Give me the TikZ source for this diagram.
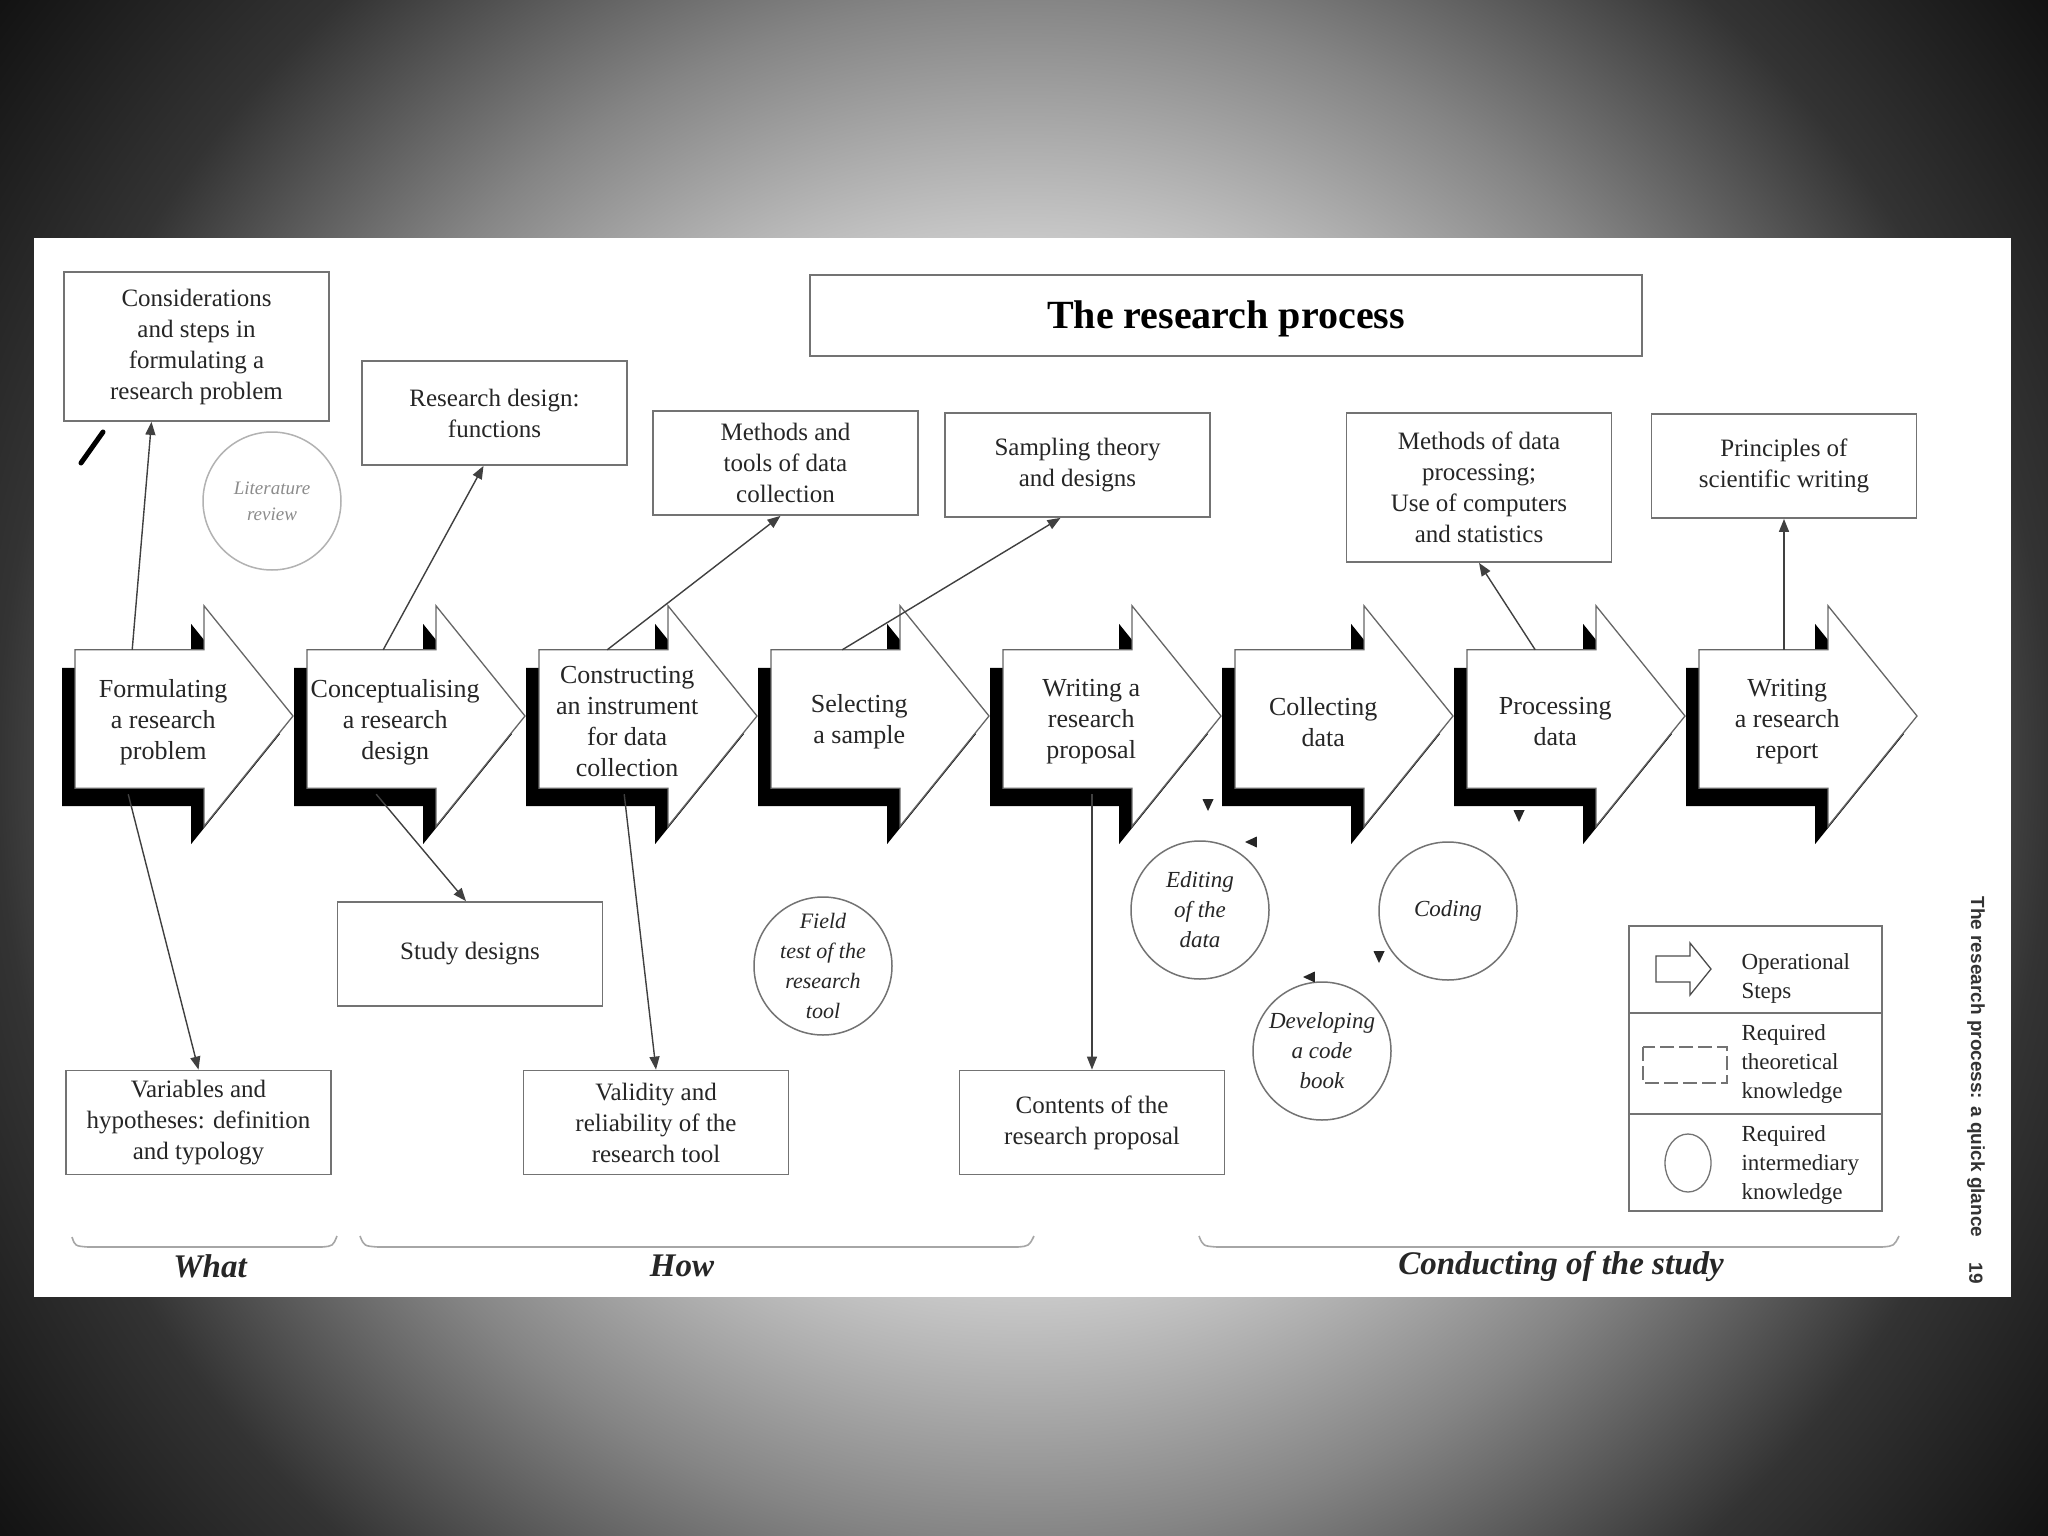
\documentclass[tikz,border=0pt]{standalone}
\usepackage{fontspec}
\setmainfont{Liberation Serif}
\setsansfont{Liberation Sans}
\usetikzlibrary{arrows.meta,backgrounds}

% grey glow behind the page, radii in bp (about one pixel each)
\pgfdeclareradialshading{slideglow}{\pgfpoint{0bp}{0bp}}{%
  color(0bp)=(black!6); color(530bp)=(black!22); color(768bp)=(black!48);
  color(1024bp)=(black!80); color(1280bp)=(black!93); color(1300bp)=(black!94)}

% outline of one operational step, built on its text node
\newcommand{\stepshape}[1]{(#1.north west) -- ([xshift=129pt]#1.north west)
  -- ([xshift=129pt,yshift=44pt]#1.north west) -- ([xshift=218pt,yshift=6pt]#1.west)
  -- ([xshift=129pt,yshift=-32pt]#1.south west) -- ([xshift=129pt,yshift=6pt]#1.south west)
  -- ([yshift=6pt]#1.south west) -- cycle}
\newcommand{\drawstep}[1]{%
  \path[stepshadow] \stepshape{#1};
  \path[stepbody] \stepshape{#1};}

\begin{document}
\begin{tikzpicture}[x=1pt, y=-1pt,
    stepbox/.style={minimum width=176pt, minimum height=144pt, inner sep=0pt, anchor=west,
      align=center, text=black!85, font=\fontsize{26}{31}\selectfont},
    stepbody/.style={fill=white, draw=black!60, line width=1.3pt, line join=miter},
    stepshadow/.style={fill=black, transform canvas={xshift=-13pt, yshift=-18pt}},
    theory/.style={draw=black!55, line width=1.8pt, fill=white, align=center, inner sep=0pt,
      minimum width=265pt, minimum height=104pt, text=black!85, font=\fontsize{25}{31}\selectfont},
    knowhow/.style={circle, draw=black!55, line width=1.5pt, fill=white, minimum size=138pt,
      inner sep=-8pt, align=center, text=black!85, font=\fontsize{23}{30}\selectfont\itshape},
    link/.style={draw=black!75, line width=1.4pt, -{Triangle[length=13pt,width=10pt]}},
    cyclehead/.style={fill=black!85},
    brace/.style={draw=black!35, line width=1.6pt},
    phase/.style={text=black!85, font=\fontsize{33}{36}\selectfont\bfseries\itshape},
    keytext/.style={anchor=west, align=left, text=black!85, font=\fontsize{23}{29}\selectfont}]

  \useasboundingbox (0,0) rectangle (2048,1536);
  \begin{scope}[on background layer]
    \clip (0,0) rectangle (2048,1536);
    \node[inner sep=0pt] (glow) at (1024,768) {\pgfuseshading{slideglow}};
    \fill[white] (34,238) rectangle (2011,1297);
  \end{scope}

  \node[draw=black!55, line width=2pt, minimum width=832pt, minimum height=81pt, text depth=0pt,
    font=\fontsize{40}{44}\selectfont\bfseries] (title) at (1226,315) {The research process};

  % operational steps
  \node[stepbox] (formulate) at (75,722) {Formulating\\a research\\problem};
  \node[stepbox] (conceive) at (307,722) {Conceptualising\\a research\\design};
  \node[stepbox] (construct) at (539,722) {Constructing\\an instrument\\for data\\collection};
  \node[stepbox] (select) at (771,722) {Selecting\\a sample};
  \node[stepbox] (propose) at (1003,722) {Writing a\\research\\proposal};
  \node[stepbox] (collect) at (1235,722) {Collecting\\data};
  \node[stepbox] (process) at (1467,722) {Processing\\data};
  \node[stepbox] (report) at (1699,722) {Writing\\a research\\report};
  \begin{scope}[on background layer]
    \drawstep{formulate}
    \drawstep{conceive}
    \drawstep{construct}
    \drawstep{select}
    \drawstep{propose}
    \drawstep{collect}
    \drawstep{process}
    \drawstep{report}
  \end{scope}

  % required theoretical knowledge
  \node[theory, minimum height=149pt] (tprob) at (196.5,346.5) {Considerations\\and steps in\\formulating a\\research problem};
  \node[theory] (tdesign) at (494.5,413) {Research design:\\functions};
  \node[theory] (ttools) at (785.5,463) {Methods and\\tools of data\\collection};
  \node[theory] (tsample) at (1077.5,465) {Sampling theory\\and designs};
  \node[theory, minimum height=149pt] (tproc) at (1479,487.5) {Methods of data\\processing;\\Use of computers\\and statistics};
  \node[theory] (twrite) at (1784,466) {Principles of\\scientific writing};
  \node[theory] (bdesign) at (470,954) {Study designs};
  \node[theory] (bvar) at (198.5,1122.5) {Variables and\\hypotheses: definition\\and typology};
  \node[theory] (bvalid) at (656,1122.5) {Validity and\\reliability of the\\research tool};
  \node[theory] (bcontent) at (1092,1122.5) {Contents of the\\research proposal};

  % required intermediary knowledge
  \node[knowhow, draw=black!30, text=black!45, font=\fontsize{19}{26}\selectfont\itshape] (clit) at (272,501) {Literature\\review};
  \node[knowhow, font=\fontsize{22}{30}\selectfont\itshape] (cfield) at (823,966) {Field\\test of the\\research\\tool};
  \node[knowhow] (cedit) at (1200,910) {Editing\\of the\\data};
  \node[knowhow] (ccode) at (1448,911) {Coding};
  \node[knowhow] (cbook) at (1322,1051) {Developing\\a code\\book};

  \draw[link] ([xshift=-31pt]formulate.north) -- ([xshift=-45pt]tprob.south);
  \draw[link] ([xshift=-35pt]formulate.south) -- (bvar.north);
  \draw[link] ([xshift=-12pt]conceive.north) -- ([xshift=-11pt]tdesign.south);
  \draw[link] ([xshift=-19pt]conceive.south) -- ([xshift=-4pt]bdesign.north);
  \draw[link] ([xshift=-20pt]construct.north) -- ([xshift=-5pt]ttools.south);
  \draw[link] ([xshift=-3pt]construct.south) -- (bvalid.north);
  \draw[link] ([xshift=-17pt]select.north) -- ([xshift=-17pt]tsample.south);
  \draw[link] (bcontent.north |- propose.south) -- (bcontent.north);
  \draw[link] ([xshift=-20pt]process.north) -- (tproc.south);
  \draw[link] (twrite.south |- report.north) -- (twrite.south);

  % loose heads round the data cycle
  \fill[cyclehead] (1208,811) -- +(245:13) -- +(295:13) -- cycle;
  \fill[cyclehead] (1245,842) -- +(335:13) -- +(25:13) -- cycle;
  \fill[cyclehead] (1519,822) -- +(245:13) -- +(295:13) -- cycle;
  \fill[cyclehead] (1379,963) -- +(245:13) -- +(295:13) -- cycle;
  \fill[cyclehead] (1303,977) -- +(335:13) -- +(25:13) -- cycle;

  \draw[black, line width=5pt, line cap=round] (81,463) -- (103,432);

  % key
  \node[draw=black!55, line width=1.6pt, minimum width=253pt, minimum height=285pt, inner sep=0pt] (legend) at (1755.5,1068.5) {};
  \draw[black!55, line width=1.4pt] (1629,1013) -- (1882,1013);
  \draw[black!55, line width=1.4pt] (1629,1114) -- (1882,1114);
  \draw[black!70, line width=1.3pt, line join=miter] (1656,956) -- (1690,956) -- (1690,943) -- (1711,969)
    -- (1690,995) -- (1690,982) -- (1656,982) -- cycle;
  \draw[black!55, line width=1.4pt, dash pattern=on 14pt off 5pt] (1643,1047) rectangle (1727,1083);
  \draw[black!55, line width=1.3pt] (1688,1163) ellipse [x radius=23pt, y radius=29pt];
  \node[keytext] (kstep) at (1738,978) {Operational\\Steps};
  \node[keytext] (ktheory) at (1738,1064) {Required\\theoretical\\knowledge};
  \node[keytext] (kinter) at (1738,1165) {Required\\intermediary\\knowledge};

  % phases
  \draw[brace] (72,1237) .. controls (75,1246) .. (88,1247) -- (322,1247) .. controls (333,1246) .. (337,1236);
  \draw[brace] (360,1236) .. controls (364,1246) .. (378,1247) -- (1018,1247) .. controls (1029,1246) .. (1034,1236);
  \draw[brace] (1199,1236) .. controls (1203,1246) .. (1217,1247) -- (1882,1247) .. controls (1894,1246) .. (1899,1236);
  \node[phase] (what) at (210,1266) {What};
  \node[phase] (how) at (682,1266) {How};
  \node[phase] (conduct) at (1561,1266) {Conducting of the study};

  \node[rotate=-90, anchor=west, text=black!80, font=\sffamily\bfseries\fontsize{19}{22}\selectfont] (runhead) at (1976,893) {The research process: a quick glance};
  \node[rotate=-90, text=black!80, font=\sffamily\bfseries\fontsize{19}{22}\selectfont] (pageno) at (1976,1273) {19};
\end{tikzpicture}
\end{document}
